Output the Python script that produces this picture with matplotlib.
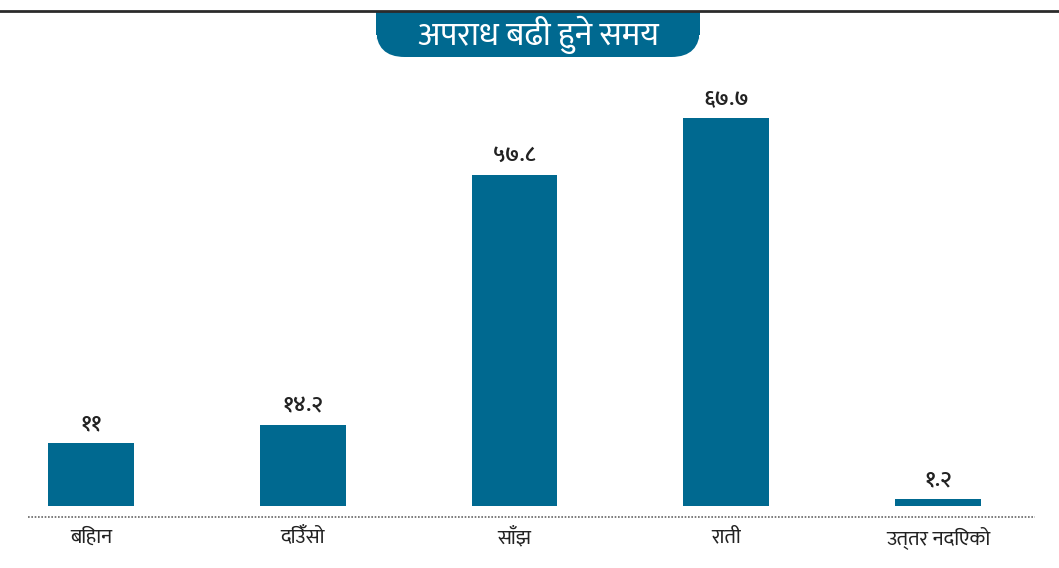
import matplotlib
matplotlib.use('Agg')
import matplotlib.pyplot as plt
from matplotlib.patches import FancyBboxPatch, Rectangle
from matplotlib.lines import Line2D

plt.rcParams['font.family'] = ['Ek Mukta', 'Anek Devanagari', 'DejaVu Sans']

title = 'अपराध बढी हुने समय'
categories = ['बिहान', 'दिउँसो', 'साँझ', 'राती', 'उत्तर नदिएको']
values = [11, 14.2, 57.8, 67.7, 1.2]
value_labels = ['११', '१४.२', '५७.८', '६७.७', '१.२']

teal = '#006990'
W, H = 1059, 568

fig = plt.figure(figsize=(W / 100, H / 100), dpi=100)

# axes placed in pixel terms: x from 28 to 1035, y from 80 to 506
ax = fig.add_axes([28 / W, 1 - 506 / H, (1035 - 28) / W, (506 - 80) / H])
x = list(range(len(categories)))
ax.bar(x, values, width=0.405, color=teal)
ax.set_xlim(-0.2975, 4.458)
ax.set_ylim(0, 74.3)
for xi, v, lab in zip(x, values, value_labels):
    ax.text(xi, v + 1.5, lab, ha='center', va='bottom', fontsize=16,
            fontweight='semibold', color='#222222')
for xi, c in zip(x, categories):
    ax.text(xi, -5.5, c, ha='center', va='center', fontsize=15,
            color='#222222', clip_on=False)
ax.axhline(-1.92, color='#666666', lw=1.2, ls=(0, (1, 1)), clip_on=False)
for s in ax.spines.values():
    s.set_visible(False)
ax.set_xticks([])
ax.set_yticks([])

# top rule and title box
fig.add_artist(Line2D([0, 1], [1 - 11 / H, 1 - 11 / H], color='#2b2b2b', lw=2,
                      transform=fig.transFigure))
bx0, bx1, by0, by1 = 376, 700, 57, 12
fig.add_artist(FancyBboxPatch((bx0 / W, 1 - by0 / H), (bx1 - bx0) / W, (by0 - by1) / H,
                              boxstyle='round,pad=0,rounding_size=0.027',
                              mutation_aspect=W / H, transform=fig.transFigure,
                              fc=teal, ec='none'))
fig.add_artist(Rectangle((bx0 / W, 1 - 35 / H), (bx1 - bx0) / W, 23 / H,
                         transform=fig.transFigure, fc=teal, ec='none'))
fig.text((bx0 + bx1) / 2 / W, 1 - 35 / H, title, ha='center', va='center',
         fontsize=24, color='white')

fig.savefig('out.png', dpi=100)
